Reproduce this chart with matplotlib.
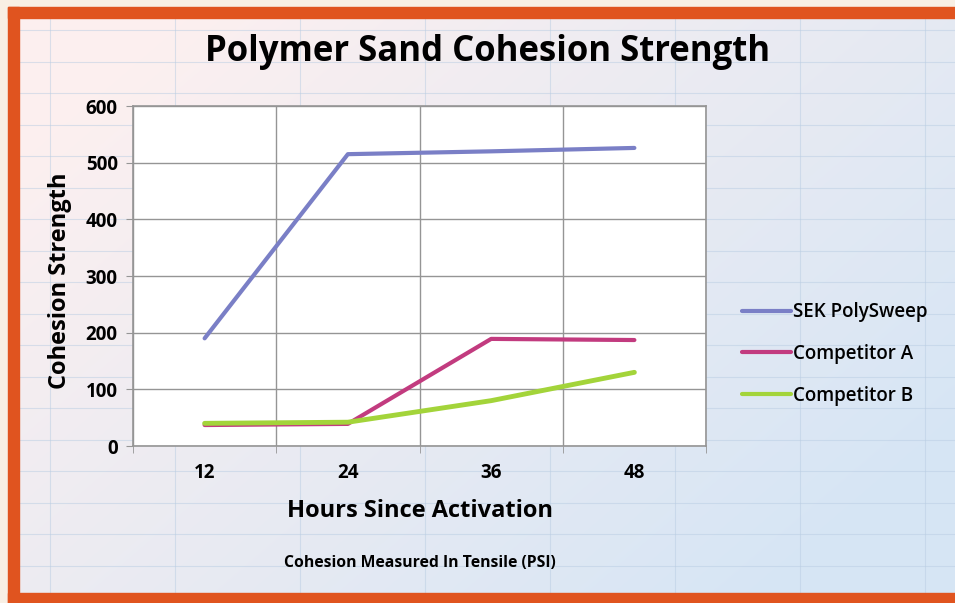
import numpy as np
import matplotlib.pyplot as plt
from matplotlib.patches import Rectangle

# data
hours = ['12', '24', '36', '48']
sek_polysweep = [190, 515, 520, 526]
competitor_a = [37, 39, 189, 187]
competitor_b = [40, 42, 80, 130]

W, H = 955, 603
plt.rcParams['font.family'] = ['Open Sans', 'DejaVu Sans']

fig = plt.figure(figsize=(W / 100, H / 100), dpi=100)

# background: pale pink to light blue, with faint spreadsheet cells
bg = fig.add_axes([0, 0, 1, 1])
bg.set_xlim(0, W)
bg.set_ylim(H, 0)
bg.axis('off')
xx, yy = np.meshgrid(np.linspace(0, 1, 200), np.linspace(0, 1, 130))
t = np.clip(0.75 * xx + 0.55 * yy - 0.15, 0, 1)[..., None]
c0 = np.array([0.99, 0.94, 0.94])
c1 = np.array([0.84, 0.90, 0.96])
bg.imshow(c0 * (1 - t) + c1 * t, extent=[0, W, H, 0], aspect='auto',
          interpolation='bicubic', zorder=0)
for gx in np.arange(50, W, 125):
    bg.axvline(gx, color='#b9cde3', lw=0.8, alpha=0.5, zorder=1)
for gy in np.arange(30, H, 31.5):
    bg.axhline(gy, color='#b9cde3', lw=0.8, alpha=0.5, zorder=1)

# orange frame
orange = '#e0541f'
bg.add_patch(Rectangle((0, 0), W, 7, color='#f8efe4', zorder=2))
bg.add_patch(Rectangle((0, 0), 8, H, color='#f8efe4', zorder=2))
bg.add_patch(Rectangle((8, 7), W, 11, color=orange, zorder=3))
bg.add_patch(Rectangle((8, 7), 11, H, color=orange, zorder=3))
bg.add_patch(Rectangle((8, 593), W, 10, color=orange, zorder=3))

# main chart
ax = fig.add_axes([133 / W, 1 - 446 / H, (706 - 133) / W, 340 / H])
ax.set_facecolor('white')
x = np.arange(1, len(hours) + 1)
ax.plot(x, sek_polysweep, color='#7a7fc6', lw=3, label='SEK PolySweep',
        solid_capstyle='round')
ax.plot(x, competitor_a, color='#c23b7f', lw=3, label='Competitor A',
        solid_capstyle='round')
ax.plot(x, competitor_b, color='#a3d43a', lw=3.5, label='Competitor B',
        solid_capstyle='round')

ax.set_xlim(0.5, 4.5)
ax.set_ylim(0, 600)
ax.set_xticks(x)
ax.set_xticklabels(hours)
ax.set_xticks(np.arange(0.5, 4.6, 1), minor=True)
ax.set_yticks(np.arange(0, 601, 100))
ax.grid(True, which='minor', axis='x', color='#959595', lw=1)
ax.grid(True, which='major', axis='y', color='#959595', lw=1)
ax.set_axisbelow(True)
ax.tick_params(axis='x', which='major', length=0, pad=12, labelsize=13.5)
ax.tick_params(axis='x', which='minor', length=5, color='#959595')
ax.tick_params(axis='y', length=5, color='#959595', pad=6, labelsize=13.5)
for lab in ax.get_xticklabels() + ax.get_yticklabels():
    lab.set_fontweight('bold')
for s in ax.spines.values():
    s.set_color('#959595')
    s.set_linewidth(1.2)

leg = ax.legend(loc='center left', bbox_to_anchor=(725 / W, 1 - 354 / H),
                bbox_transform=fig.transFigure, frameon=False,
                prop={'size': 13.5, 'weight': 'semibold'},
                handlelength=2.6, handletextpad=0.15, labelspacing=1.15)
for line in leg.get_lines():
    line.set_linewidth(3)

fig.text(488 / W, 1 - 52 / H, 'Polymer Sand Cohesion Strength',
         ha='center', va='center', fontsize=25, fontweight='bold')
fig.text(60 / W, 1 - 281 / H, 'Cohesion Strength', rotation=90,
         ha='center', va='center', fontsize=17, fontweight='bold')
fig.text(420 / W, 1 - 511 / H, 'Hours Since Activation',
         ha='center', va='center', fontsize=17, fontweight='bold')
fig.text(420 / W, 1 - 563 / H, 'Cohesion Measured In Tensile (PSI)',
         ha='center', va='center', fontsize=11.3, fontweight='bold')

fig.savefig('out.png', dpi=100)
